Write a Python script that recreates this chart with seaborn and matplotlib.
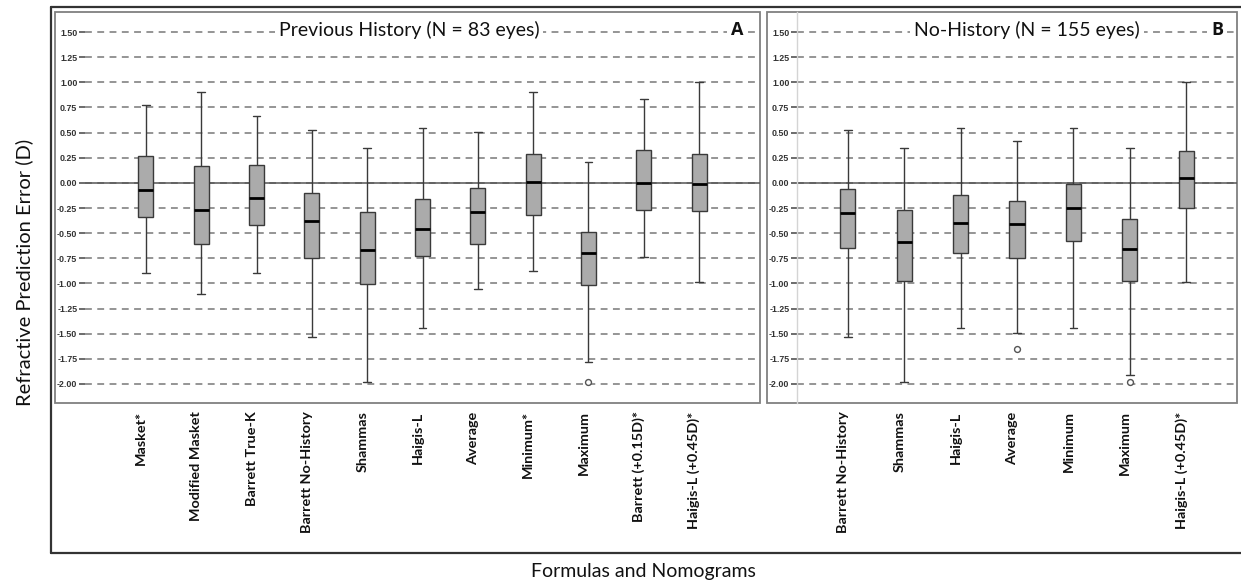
import matplotlib
matplotlib.use("Agg")
import matplotlib.pyplot as plt
import matplotlib.transforms as mtransforms
from matplotlib.lines import Line2D
from matplotlib.patches import Rectangle
import numpy as np
import pandas as pd
import seaborn as sns

# ---- Panel A: eyes with previous refractive surgery history (N = 83) ----
hist_formulas = ["Masket*", "Modified Masket", "Barrett True-K", "Barrett No-History",
                 "Shammas", "Haigis-L", "Average", "Minimum*", "Maximum",
                 "Barrett (+0.15D)*", "Haigis-L (+0.45D)*"]
hist_low = [-0.90, -1.11, -0.90, -1.53, -1.98, -1.44, -1.06, -0.88, -1.78, -0.74, -0.99]
hist_q1 = [-0.34, -0.61, -0.42, -0.75, -1.01, -0.73, -0.61, -0.32, -1.02, -0.27, -0.28]
hist_med = [-0.07, -0.27, -0.15, -0.38, -0.67, -0.46, -0.29, 0.01, -0.70, 0.00, -0.01]
hist_q3 = [0.27, 0.17, 0.18, -0.10, -0.29, -0.16, -0.05, 0.29, -0.49, 0.33, 0.29]
hist_high = [0.77, 0.90, 0.67, 0.53, 0.35, 0.55, 0.51, 0.90, 0.21, 0.83, 1.00]
hist_outlier_formula = ["Maximum"]
hist_outlier_value = [-1.98]

# ---- Panel B: eyes without history (N = 155) ----
nohist_formulas = ["Barrett No-History", "Shammas", "Haigis-L", "Average",
                   "Minimum", "Maximum", "Haigis-L (+0.45D)*"]
nohist_low = [-1.53, -1.98, -1.44, -1.49, -1.44, -1.91, -0.99]
nohist_q1 = [-0.65, -0.98, -0.70, -0.75, -0.58, -0.98, -0.25]
nohist_med = [-0.30, -0.59, -0.40, -0.41, -0.25, -0.66, 0.05]
nohist_q3 = [-0.06, -0.27, -0.12, -0.18, -0.01, -0.36, 0.32]
nohist_high = [0.53, 0.35, 0.55, 0.42, 0.55, 0.35, 1.00]
nohist_outlier_formula = ["Average", "Maximum"]
nohist_outlier_value = [-1.65, -1.98]

y_ticks = [1.50, 1.25, 1.00, 0.75, 0.50, 0.25, 0.00, -0.25, -0.50,
           -0.75, -1.00, -1.25, -1.50, -1.75, -2.00]

sns.set_theme(style="white")
plt.rcParams["font.family"] = ["Lato", "DejaVu Sans"]

W, H = 1241, 587
fig = plt.figure(figsize=(W / 100, H / 100), dpi=100)


def fx(px):
    return px / W


def fy(py):
    return 1 - py / H


BOX_FILL = "#ababab"
EDGE = "#3a3a3a"
GRID = "#8c8c8c"
FRAME = "#808080"


def five_number_frame(formulas, low, q1, med, q3, high):
    vals = np.column_stack([low, q1, med, q3, high]).ravel()
    return pd.DataFrame({"formula": np.repeat(formulas, 5), "value": vals})


def draw_panel(left_px, right_px, formulas, low, q1, med, q3, high,
               out_f, out_v, margin):
    top_px, bottom_px = 12, 403
    ax = fig.add_axes([fx(left_px), fy(bottom_px),
                       fx(right_px - left_px), (bottom_px - top_px) / H])
    ax.set_facecolor("none")
    df = five_number_frame(formulas, low, q1, med, q3, high)
    sns.boxplot(data=df, x="formula", y="value", order=formulas,
                whis=(0, 100), width=0.27, color=BOX_FILL, saturation=1,
                linecolor=EDGE, linewidth=1.0, fliersize=0,
                medianprops=dict(color="black", linewidth=2.0),
                ax=ax)
    pos = [formulas.index(f) for f in out_f]
    ax.scatter(pos, out_v, s=18, facecolors="white", edgecolors="#555555",
               linewidths=1.0, zorder=4)

    ax.set_xlim(-margin, len(formulas) - 1 + margin)
    ax.set_ylim(-2.19, 1.70)
    ax.set_axisbelow(True)
    ax.set_yticks(y_ticks)
    ax.set_yticklabels([f"{v:.2f}" for v in y_ticks],
                       family=["Liberation Sans", "DejaVu Sans"],
                       fontweight="bold", fontsize=6.4, color="#333333")
    ax.yaxis.grid(True, color=GRID, linewidth=1.3, linestyle=(0, (3.8, 3.0)))
    ax.xaxis.grid(False)
    ax.axhline(0, color="#555555", linewidth=1.1, zorder=1)
    ax.tick_params(axis="y", left=True, length=4.5, width=1.1, color="#444444", pad=1.0)
    ax.tick_params(axis="x", bottom=False, length=0, pad=6)
    ax.set_xticks(range(len(formulas)))
    ax.set_xticklabels(formulas, rotation=90, fontsize=10.4, fontweight="bold",
                       color="#111111")
    shift = mtransforms.ScaledTranslation(-5 / 100, 0, fig.dpi_scale_trans)
    for lab in ax.get_xticklabels():
        lab.set_transform(lab.get_transform() + shift)
    ax.set_xlabel("")
    ax.set_ylabel("")
    for s in ax.spines.values():
        s.set_visible(False)
    return ax


axA = draw_panel(85, 760, hist_formulas, hist_low, hist_q1, hist_med, hist_q3,
                 hist_high, hist_outlier_formula, hist_outlier_value, 1.1)
axB = draw_panel(797, 1237, nohist_formulas, nohist_low, nohist_q1, nohist_med,
                 nohist_q3, nohist_high, nohist_outlier_formula,
                 nohist_outlier_value, 0.9)
axB.spines["left"].set_visible(True)
axB.spines["left"].set_color("#d4d4d4")
axB.spines["left"].set_linewidth(1.0)

# inner panel frames enclosing the tick labels (drawn beneath the panels)
for x0, x1 in [(55, 760), (767, 1237)]:
    fig.add_artist(Rectangle((fx(x0), fy(403)), fx(x1 - x0), (403 - 12) / H,
                             transform=fig.transFigure, fill=False,
                             edgecolor=FRAME, linewidth=1.3, zorder=-1))

# outer frame
for xs, ys in [([51, 51], [7, 553]), ([51, 1245], [7, 7]), ([51, 1245], [553, 553])]:
    fig.add_artist(Line2D([fx(x) for x in xs], [fy(y) for y in ys],
                          transform=fig.transFigure, color="#333333",
                          linewidth=1.6, zorder=6))

title_box = dict(facecolor="white", edgecolor="none", pad=3)
fig.text(fx(409), fy(30), "Previous History (N = 83 eyes)", ha="center",
         va="center", fontsize=14, color="#111111", bbox=title_box, zorder=7)
fig.text(fx(1027), fy(30), "No-History (N = 155 eyes)", ha="center",
         va="center", fontsize=14, color="#111111", bbox=title_box, zorder=7)
fig.text(fx(737), fy(30), "A", ha="center", va="center", fontsize=13,
         fontweight="bold", family=["Open Sans", "DejaVu Sans"],
         color="#111111", bbox=title_box, zorder=7)
fig.text(fx(1217), fy(30), "B", ha="center", va="center", fontsize=13,
         fontweight="bold", family=["Open Sans", "DejaVu Sans"],
         color="#111111", bbox=title_box, zorder=7)

fig.text(fx(24), fy(272), "Refractive Prediction Error (D)", rotation=90,
         ha="center", va="center", fontsize=14.5, color="#111111")
fig.text(fx(643), fy(571), "Formulas and Nomograms", ha="center",
         va="center", fontsize=14, color="#111111")

fig.savefig("out.png", dpi=100, facecolor="white")
